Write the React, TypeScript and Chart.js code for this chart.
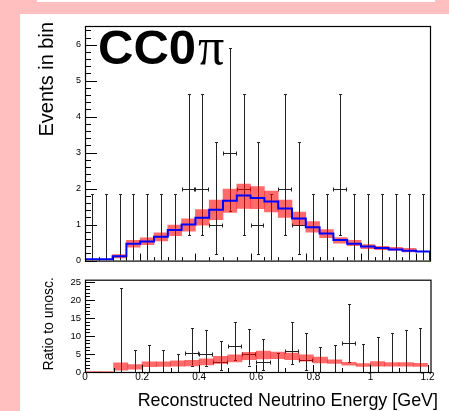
import React, { useEffect, useRef } from 'react';
import { Chart, registerables } from 'chart.js';

Chart.register(...registerables);

// ---------- data ----------
const TOP_BIN_EDGES = [0, 0.05, 0.1, 0.15, 0.2, 0.25, 0.3, 0.35, 0.4, 0.45, 0.5, 0.55, 0.6, 0.65, 0.7, 0.75, 0.8, 0.85, 0.9, 0.95, 1.0, 1.05, 1.1, 1.15, 1.2, 1.25];
const RATIO_BIN_EDGES = [0, 0.05, 0.1, 0.15, 0.2, 0.25, 0.3, 0.35, 0.4, 0.45, 0.5, 0.55, 0.6, 0.65, 0.7, 0.75, 0.8, 0.85, 0.9, 0.95, 1.0, 1.05, 1.1, 1.15, 1.2];

// oscillated prediction (blue step line)
const TOP_MC = [0.04, 0.04, 0.12, 0.47, 0.53, 0.66, 0.85, 1.0, 1.19, 1.41, 1.66, 1.81, 1.74, 1.64, 1.45, 1.17, 0.93, 0.75, 0.57, 0.47, 0.39, 0.35, 0.31, 0.275, 0.25];
// uncertainty band (red boxes)
const TOP_BAND = [null, null, 0.12, 0.47, 0.54, 0.66, 0.84, 0.99, 1.2, 1.41, 1.665, 1.79, 1.75, 1.64, 1.44, 1.17, 0.94, 0.75, 0.565, 0.49, 0.39, 0.35, 0.33, 0.29, null];
const TOP_BAND_ERR = [null, null, 0.046, 0.096, 0.096, 0.115, 0.147, 0.174, 0.216, 0.275, 0.326, 0.34, 0.31, 0.29, 0.24, 0.18, 0.147, 0.11, 0.078, 0.073, 0.055, 0.046, 0.04, 0.05, null];
// data events and Poisson intervals
const TOP_DATA = [0, 0, 0, 0, 0, 0, 0, 2, 2, 1, 3, 2, 1, 0, 2, 1, 0, 0, 2, 0, 0, 0, 0, 0, 0];
const TOP_DATA_LOW = [0, 0, 0, 0, 0, 0, 0, 0.71, 0.71, 0.17, 1.37, 0.71, 0.17, 0, 0.71, 0.17, 0, 0, 0.71, 0, 0, 0, 0, 0, 0];
const TOP_DATA_HIGH = [1.84, 1.84, 1.84, 1.84, 1.84, 1.84, 1.84, 4.64, 4.64, 3.3, 5.92, 4.64, 3.3, 1.84, 4.64, 3.3, 1.84, 1.84, 4.64, 1.84, 1.84, 1.84, 1.84, 1.84, 1.84];

// ratio panel
const RATIO_BAND = [0, 0, 1.54, 1.45, 2.13, 2.17, 2.36, 2.49, 2.81, 3.35, 3.8, 4.44, 4.71, 4.62, 4.35, 3.9, 3.35, 2.85, 2.31, 1.95, 2.26, 2.13, 2.13, 1.99];
const RATIO_BAND_ERR = [0.12, 0.12, 1.0, 0.63, 0.68, 0.63, 0.72, 0.77, 0.82, 1.0, 1.0, 1.0, 1.09, 0.9, 0.9, 0.9, 0.8, 0.5, 0.4, 0.4, 0.63, 0.5, 0.5, 0.45];
const RATIO_VALUE = [null, null, null, null, null, null, null, 5.2, 5.0, 2.65, 7.1, 5.1, 2.75, null, 5.95, 3.25, null, null, 8.15, null, null, null, null, null];
const RATIO_LOW = [null, null, 0, 0, 0, 0, 0, 1.8, 1.75, 0.45, 3.2, 1.8, 0.5, 0, 2.1, 0.55, 0, 0, 2.8, 0, 0, 0, 0, 0];
const RATIO_HIGH = [null, null, 23.2, 6.16, 7.5, 6.16, 5.07, 12.1, 11.6, 8.7, 14.0, 11.8, 9.15, 5.25, 13.8, 10.7, 7.0, 7.4, 18.8, 7.7, 9.8, 10.9, 11.7, 12.3];

const TOP_Y_TICKS = [0, 1, 2, 3, 4, 5, 6];
const RATIO_Y_TICKS = [0, 5, 10, 15, 20, 25];
const RATIO_X_TICKS = [0, 0.2, 0.4, 0.6, 0.8, 1, 1.2];

const TITLE_TOP = 'CC0';
const TITLE_PI = 'π';
const Y_TITLE_TOP = 'Events in bin';
const Y_TITLE_RATIO = 'Ratio to unosc.';
const X_TITLE = 'Reconstructed Neutrino Energy [GeV]';

const SANS = '"Liberation Sans", Arial, Helvetica, sans-serif';
const SERIF = '"Liberation Serif", "Times New Roman", serif';
const BAND_COLOR = 'rgba(255,0,0,0.58)';

// ---------- helpers ----------
function centers(edges: number[]) {
  const out: number[] = [];
  for (let i = 0; i < edges.length - 1; i++) out.push((edges[i] + edges[i + 1]) / 2);
  return out;
}

function drawErrorBars(chart: any, edges: number[], vals: (number | null)[], lows: (number | null)[], highs: (number | null)[]) {
  const { ctx, chartArea, scales } = chart;
  const x = scales.x;
  const y = scales.y;
  const c = centers(edges);
  ctx.save();
  ctx.beginPath();
  ctx.rect(chartArea.left, chartArea.top - 1, chartArea.right - chartArea.left, chartArea.bottom - chartArea.top + 1);
  ctx.clip();
  ctx.strokeStyle = '#222';
  ctx.lineWidth = 1;
  ctx.beginPath();
  for (let i = 0; i < c.length; i++) {
    const hi = highs[i];
    const lo = lows[i];
    if (hi == null || lo == null) continue;
    const px = Math.round(x.getPixelForValue(c[i])) + 0.5;
    const yl = y.getPixelForValue(lo);
    const yh = Math.round(y.getPixelForValue(hi)) + 0.5;
    ctx.moveTo(px, yl);
    ctx.lineTo(px, yh);
    ctx.moveTo(px - 1.5, yh);
    ctx.lineTo(px + 1.5, yh);
    if (lo > 0) {
      const ylr = Math.round(yl) + 0.5;
      ctx.moveTo(px - 1.5, ylr);
      ctx.lineTo(px + 1.5, ylr);
    }
    const v = vals[i];
    if (v != null && v > 0) {
      const yv = Math.round(y.getPixelForValue(v)) + 0.5;
      const xl = Math.round(x.getPixelForValue(edges[i])) + 0.5;
      const xr = Math.round(x.getPixelForValue(edges[i + 1])) - 0.5;
      ctx.moveTo(xl, yv);
      ctx.lineTo(xr, yv);
      ctx.moveTo(xl, yv - 2);
      ctx.lineTo(xl, yv + 2);
      ctx.moveTo(xr, yv - 2);
      ctx.lineTo(xr, yv + 2);
    }
  }
  ctx.stroke();
  ctx.restore();
}

function drawFrameAndTicks(chart: any, yMinorStep: number, yMajorStep: number, yMaj: number, yMin: number,
  xMinorStep: number, xMajorStep: number, xMaj: number, xMin: number) {
  const { ctx, chartArea, scales } = chart;
  const x = scales.x;
  const y = scales.y;
  const { left, right, top, bottom } = chartArea;
  ctx.save();
  ctx.strokeStyle = '#000';
  ctx.lineWidth = 1;
  ctx.beginPath();
  const nY = Math.floor(y.max / yMinorStep + 1e-6);
  for (let k = 0; k <= nY; k++) {
    const v = k * yMinorStep;
    const r = v / yMajorStep;
    const major = Math.abs(r - Math.round(r)) < 1e-6;
    const py = Math.round(y.getPixelForValue(v)) + 0.5;
    ctx.moveTo(left, py);
    ctx.lineTo(left + (major ? yMaj : yMin), py);
  }
  const nX = Math.floor(x.max / xMinorStep + 1e-6);
  for (let k = 0; k <= nX; k++) {
    const v = k * xMinorStep;
    const r = v / xMajorStep;
    const major = Math.abs(r - Math.round(r)) < 1e-6;
    const px = Math.round(x.getPixelForValue(v)) + 0.5;
    ctx.moveTo(px, bottom);
    ctx.lineTo(px, bottom - (major ? xMaj : xMin));
  }
  ctx.stroke();
  ctx.lineWidth = 1.2;
  ctx.strokeRect(left + 0.5, top + 0.5, right - left, bottom - top);
  ctx.restore();
}

function rotatedText(ctx: CanvasRenderingContext2D, text: string, x: number, yEnd: number, font: string) {
  ctx.save();
  ctx.translate(x, yEnd);
  ctx.rotate(-Math.PI / 2);
  ctx.font = font;
  ctx.fillStyle = '#000';
  ctx.textAlign = 'right';
  ctx.textBaseline = 'alphabetic';
  ctx.fillText(text, 0, 0);
  ctx.restore();
}

const topPlugin = {
  id: 'topDecor',
  beforeDatasetsDraw(chart: any) {
    drawErrorBars(chart, TOP_BIN_EDGES, TOP_DATA, TOP_DATA_LOW, TOP_DATA_HIGH);
  },
  afterDraw(chart: any) {
    const ctx = chart.ctx as CanvasRenderingContext2D;
    drawFrameAndTicks(chart, 0.2, 1, 12, 6, 0.05, 0.2, 7, 3.5);
    rotatedText(ctx, Y_TITLE_TOP, 53, 22, `20px ${SANS}`);
    ctx.save();
    ctx.fillStyle = '#000';
    ctx.textAlign = 'left';
    ctx.textBaseline = 'alphabetic';
    ctx.font = `bold 49px ${SANS}`;
    ctx.fillText(TITLE_TOP, 98, 63.5);
    const w = ctx.measureText(TITLE_TOP).width;
    ctx.font = `52px ${SERIF}`;
    ctx.fillText(TITLE_PI, 98 + w + 2, 63.5);
    ctx.restore();
  },
};

const botPlugin = {
  id: 'botDecor',
  beforeDatasetsDraw(chart: any) {
    drawErrorBars(chart, RATIO_BIN_EDGES, RATIO_VALUE, RATIO_LOW, RATIO_HIGH);
  },
  afterDraw(chart: any) {
    const ctx = chart.ctx as CanvasRenderingContext2D;
    drawFrameAndTicks(chart, 1, 5, 10, 5, 0.1, 0.2, 7, 4);
    rotatedText(ctx, Y_TITLE_RATIO, 53.3, 7, `14px ${SANS}`);
    ctx.save();
    ctx.fillStyle = '#000';
    ctx.font = `17.9px ${SANS}`;
    ctx.textAlign = 'right';
    ctx.textBaseline = 'alphabetic';
    ctx.fillText(X_TITLE, 438, 135.5);
    ctx.restore();
  },
};

function stepPoints(edges: number[], values: number[]) {
  const pts: { x: number; y: number }[] = [{ x: edges[0], y: 0 }];
  for (let i = 0; i < values.length; i++) pts.push({ x: edges[i], y: values[i] });
  pts.push({ x: edges[edges.length - 1], y: values[values.length - 1] });
  pts.push({ x: edges[edges.length - 1], y: 0 });
  return pts;
}

function bandPoints(edges: number[], vals: (number | null)[], errs: (number | null)[]) {
  const c = centers(edges);
  const pts: any[] = [];
  for (let i = 0; i < c.length; i++) {
    const v = vals[i];
    const e = errs[i];
    if (v == null || e == null) continue;
    pts.push({ x: c[i], y: [v - e, v + e] });
  }
  return pts;
}

function topConfig(): any {
  return {
    type: 'bar',
    data: {
      datasets: [
        {
          type: 'line',
          label: 'oscillated',
          data: stepPoints(TOP_BIN_EDGES, TOP_MC),
          stepped: 'before',
          borderColor: '#0000ff',
          borderWidth: 2,
          pointRadius: 0,
          fill: false,
          order: 1,
        },
        {
          type: 'bar',
          label: 'uncertainty',
          data: bandPoints(TOP_BIN_EDGES, TOP_BAND, TOP_BAND_ERR),
          backgroundColor: BAND_COLOR,
          borderWidth: 0,
          barPercentage: 1,
          categoryPercentage: 1,
          order: 2,
        },
      ],
    },
    options: {
      responsive: false,
      animation: false,
      devicePixelRatio: 1,
      layout: { padding: { left: 0, right: 19, top: 26, bottom: 7 } },
      plugins: { legend: { display: false }, tooltip: { enabled: false }, title: { display: false } },
      scales: {
        x: { type: 'linear', min: 0, max: 1.25, display: false, offset: false },
        y: {
          type: 'linear',
          min: 0,
          max: 6.52,
          afterFit: (s: any) => { s.width = 85; },
          afterBuildTicks: (s: any) => { s.ticks = TOP_Y_TICKS.map((v) => ({ value: v })); },
          grid: { display: false, drawTicks: false },
          border: { display: false },
          ticks: { padding: 4, color: '#000', font: { family: SANS, size: 9 }, callback: (v: any) => `${v}` },
        },
      },
    },
    plugins: [topPlugin],
  };
}

function botConfig(): any {
  return {
    type: 'bar',
    data: {
      datasets: [
        {
          type: 'bar',
          label: 'ratio uncertainty',
          data: bandPoints(RATIO_BIN_EDGES, RATIO_BAND, RATIO_BAND_ERR),
          backgroundColor: BAND_COLOR,
          borderWidth: 0,
          barPercentage: 1,
          categoryPercentage: 1,
          order: 1,
        },
      ],
    },
    options: {
      responsive: false,
      animation: false,
      devicePixelRatio: 1,
      layout: { padding: { left: 0, right: 18.5, top: 7, bottom: 25 } },
      plugins: { legend: { display: false }, tooltip: { enabled: false }, title: { display: false } },
      scales: {
        x: {
          type: 'linear',
          min: 0,
          max: 1.2105,
          offset: false,
          afterFit: (s: any) => { s.height = 14; },
          afterBuildTicks: (s: any) => { s.ticks = RATIO_X_TICKS.map((v) => ({ value: v })); },
          grid: { display: false, drawTicks: false },
          border: { display: false },
          ticks: { padding: -1, autoSkip: false, maxRotation: 0, minRotation: 0, color: '#000', font: { family: SANS, size: 10 }, callback: (v: any) => `${v}` },
        },
        y: {
          type: 'linear',
          min: 0,
          max: 25.62,
          afterFit: (s: any) => { s.width = 85; },
          afterBuildTicks: (s: any) => { s.ticks = RATIO_Y_TICKS.map((v) => ({ value: v })); },
          grid: { display: false, drawTicks: false },
          border: { display: false },
          ticks: { padding: 4, color: '#000', font: { family: SANS, size: 9.5 }, callback: (v: any) => `${v}` },
        },
      },
    },
    plugins: [botPlugin],
  };
}

export default function App() {
  const topRef = useRef<HTMLCanvasElement>(null);
  const botRef = useRef<HTMLCanvasElement>(null);
  useEffect(() => {
    const t = new Chart(topRef.current as HTMLCanvasElement, topConfig());
    const b = new Chart(botRef.current as HTMLCanvasElement, botConfig());
    return () => {
      t.destroy();
      b.destroy();
    };
  }, []);
  return (
    <div style={{ position: 'absolute', left: 0, top: 0, width: 449, height: 411, background: '#ffbfbf', overflow: 'hidden' }}>
      <div style={{ position: 'absolute', left: 37, top: 0, width: 398, height: 2, background: '#ffffff' }} />
      <div style={{ position: 'absolute', left: 20, top: 14, width: 429, height: 397, background: '#ffffff' }} />
      <canvas ref={topRef} width={449} height={270} style={{ position: 'absolute', left: 0, top: 0, width: 449, height: 270 }} />
      <canvas ref={botRef} width={449} height={141} style={{ position: 'absolute', left: 0, top: 270, width: 449, height: 141 }} />
    </div>
  );
}
